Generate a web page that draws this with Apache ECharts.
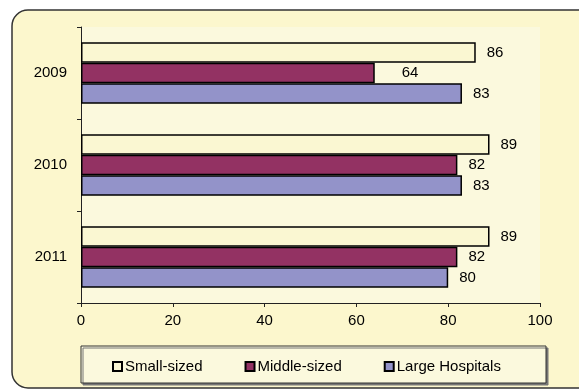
<!DOCTYPE html>
<html>
<head>
<meta charset="utf-8">
<script src="https://cdn.jsdelivr.net/npm/echarts@6/dist/echarts.min.js"></script>
<style>
  html, body { margin: 0; padding: 0; background: #fff; }
  #main { width: 579px; height: 391px; }
</style>
</head>
<body>
<div id="main"></div>
<script>
// data
var years = ['2009', '2010', '2011'];
var seriesNames = ['Small-sized', 'Middle-sized', 'Large Hospitals'];
var smallSized = [86, 89, 89];
var middleSized = [64, 82, 82];
var largeHospitals = [83, 83, 80];
var xTicks = [0, 20, 40, 60, 80, 100];

var chart = echarts.init(document.getElementById('main'));
var font = "'Liberation Sans', Arial, sans-serif";
var colors = ['#FAF7D2', '#933263', '#9393C9'];
var values = [smallSized, middleSized, largeHospitals];

function makeSeries(i) {
    var data = values[i].map(function (v) { return v; });
    // the 2009 middle label sits a bit further out in the original
    if (i === 1) data[0] = { value: data[0], label: { distance: 27 } };
    return {
        name: seriesNames[i],
        type: 'bar',
        data: data,
        barGap: '0%',
        barCategoryGap: '33%',
        itemStyle: { color: colors[i], borderColor: '#000', borderWidth: 1.5 },
        label: {
            show: true,
            position: 'right',
            distance: 11,
            color: '#000',
            fontFamily: font,
            fontSize: 15
        }
    };
}

option = {
    animation: false,
    textStyle: { fontFamily: font },
    graphic: [
        { // outer panel
            type: 'rect', z: -100,
            shape: { x: 12, y: 10, width: 700, height: 378, r: 16 },
            style: { fill: '#FCF7CD', stroke: '#333', lineWidth: 1.5 }
        },
        { // legend box
            type: 'rect', z: -50,
            shape: { x: 81, y: 346, width: 465, height: 37 },
            style: {
                fill: '#FBF9DD', stroke: '#333', lineWidth: 1,
                shadowColor: '#777', shadowOffsetX: 2, shadowOffsetY: 2, shadowBlur: 0
            }
        }
    ],
    grid: {
        left: 81, right: 39, top: 27, bottom: 88,
        show: true, backgroundColor: '#FBF9DD', borderWidth: 0
    },
    legend: {
        left: 107, top: 354,
        itemWidth: 9, itemHeight: 9, itemGap: 42,
        icon: 'rect',
        textStyle: { fontFamily: font, fontSize: 15, color: '#000', padding: [0, 0, 0, -2] },
        data: seriesNames
    },
    xAxis: {
        type: 'value',
        min: 0, max: 100, interval: 20,
        axisLine: { show: true, lineStyle: { color: '#222', width: 1 } },
        axisTick: { show: true, length: 4, lineStyle: { color: '#222' } },
        splitLine: { show: false },
        axisLabel: {
            margin: 10, color: '#000', fontFamily: font, fontSize: 15,
            formatter: function (v) { return xTicks.indexOf(v) >= 0 ? String(v) : ''; }
        }
    },
    yAxis: {
        type: 'category',
        data: years,
        inverse: true,
        axisLine: { show: true, lineStyle: { color: '#222', width: 1 } },
        axisTick: { show: true, length: 4, lineStyle: { color: '#222' } },
        axisLabel: { margin: 14, color: '#000', fontFamily: font, fontSize: 15 }
    },
    series: [makeSeries(0), makeSeries(1), makeSeries(2)]
};

chart.setOption(option);
</script>
</body>
</html>
